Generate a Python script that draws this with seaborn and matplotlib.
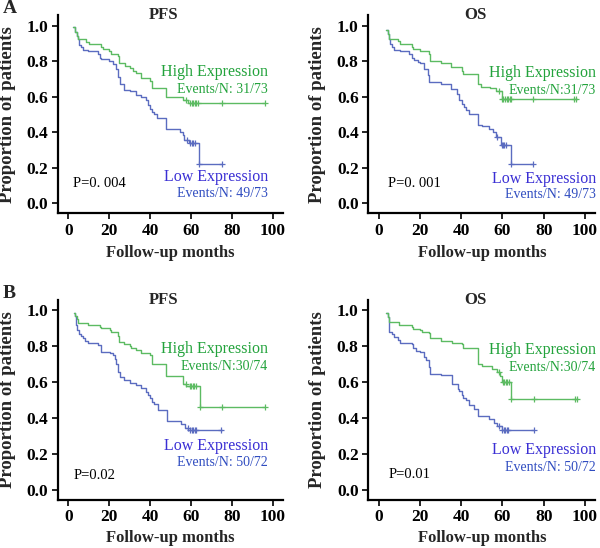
import numpy as np
import pandas as pd
import seaborn as sns
import matplotlib
matplotlib.use("Agg")
import matplotlib.pyplot as plt

# ---- data (step points: time in months, survival) ----
# A / PFS
a_pfs_high_t = [2.4, 3.3, 4.0, 4.8, 8.4, 10, 15.7, 16.7, 19.9, 21, 24, 24.8, 27.5, 30, 31.6, 33, 35.3, 40.1, 40.9, 47.8, 55.8, 58.3, 96]
a_pfs_high_s = [0.99, 0.963, 0.944, 0.925, 0.908, 0.897, 0.878, 0.866, 0.856, 0.84, 0.83, 0.79, 0.775, 0.76, 0.747, 0.734, 0.706, 0.69, 0.648, 0.597, 0.583, 0.567, 0.567]
a_pfs_high_c = [57.5, 59.5, 60.3, 61.0, 61.8, 62.6, 63.5, 75, 96]
a_pfs_low_t = [2.4, 3.3, 4.0, 4.8, 5.2, 6, 7, 9.8, 14.6, 15.3, 16, 20, 21.7, 23.5, 24.3, 25.1, 27.2, 30, 33, 35.3, 37.8, 38.9, 40.1, 41, 42, 43.4, 47.8, 54.6, 55.8, 56.6, 59, 64, 75]
a_pfs_low_s = [0.99, 0.963, 0.944, 0.925, 0.893, 0.878, 0.865, 0.856, 0.84, 0.82, 0.81, 0.80, 0.785, 0.757, 0.71, 0.67, 0.64, 0.63, 0.61, 0.596, 0.584, 0.556, 0.531, 0.512, 0.503, 0.479, 0.42, 0.40, 0.382, 0.355, 0.338, 0.223, 0.223]
a_pfs_low_c = [57.8, 59.5, 60.3, 61.0, 61.8, 64, 75]

# A / OS
a_os_high_t = [3.5, 4.4, 5.2, 9.2, 10.3, 16, 16.8, 20.2, 24.3, 25.1, 30.3, 35, 40.3, 41.1, 48, 49.6, 54, 56.8, 59.6, 96]
a_os_high_s = [0.976, 0.955, 0.925, 0.913, 0.897, 0.878, 0.866, 0.856, 0.84, 0.80, 0.789, 0.77, 0.747, 0.73, 0.672, 0.655, 0.648, 0.635, 0.588, 0.588]
a_os_high_c = [58.5, 59.8, 60.5, 61.2, 62, 62.8, 63.5, 64.3, 75, 94.8, 95.9]
a_os_low_t = [3.5, 4.4, 5.0, 5.5, 6.5, 7.6, 10.3, 14.8, 16, 17.3, 19, 20.2, 22.2, 23.8, 24.6, 30.3, 35, 38, 38.8, 40.4, 41.3, 42.4, 44, 48, 50, 53.6, 55.2, 56.8, 59.3, 64.1, 75]
a_os_low_s = [0.976, 0.955, 0.925, 0.897, 0.88, 0.865, 0.856, 0.84, 0.82, 0.806, 0.795, 0.79, 0.757, 0.72, 0.684, 0.674, 0.646, 0.618, 0.581, 0.562, 0.54, 0.524, 0.505, 0.44, 0.435, 0.42, 0.40, 0.373, 0.33, 0.223, 0.223]
a_os_low_c = [57.6, 59.6, 60.3, 61.0, 61.8, 64.1, 75]

# B / PFS
b_pfs_high_t = [2.6, 3.3, 4.0, 4.8, 9.7, 15.3, 16.1, 20.2, 21, 24.2, 24.7, 27.2, 30, 30.8, 32.9, 35.3, 40.1, 41, 47.8, 55.8, 57.6, 64.3, 96.3]
b_pfs_high_s = [0.987, 0.968, 0.95, 0.928, 0.918, 0.907, 0.9, 0.889, 0.876, 0.858, 0.824, 0.81, 0.798, 0.789, 0.776, 0.76, 0.748, 0.70, 0.634, 0.592, 0.578, 0.462, 0.462]
b_pfs_high_c = [57.4, 59.2, 60.0, 60.8, 61.6, 62.5, 64.3, 75.3, 96.3]
b_pfs_low_t = [2.6, 3.3, 3.5, 4.3, 5.2, 6, 7.1, 8, 9.5, 14.6, 15.7, 20.2, 21.8, 22.6, 23.4, 24.3, 25.1, 27.2, 30, 33, 35.3, 37.8, 38.9, 40.1, 41, 42, 43.6, 48, 55, 57.2, 58.5, 75]
b_pfs_low_s = [0.987, 0.968, 0.92, 0.89, 0.866, 0.855, 0.843, 0.83, 0.815, 0.806, 0.77, 0.76, 0.75, 0.73, 0.703, 0.657, 0.63, 0.612, 0.593, 0.584, 0.566, 0.547, 0.529, 0.51, 0.49, 0.476, 0.445, 0.385, 0.365, 0.347, 0.332, 0.332]
b_pfs_low_c = [58.3, 59.5, 60.2, 61.0, 61.7, 62.4, 74.8]

# B / OS
b_os_high_t = [3.5, 4.4, 4.8, 9.7, 16, 16.8, 20.2, 21.2, 24.3, 25.1, 30.3, 35.5, 40.4, 41, 48, 50, 55, 57.2, 58.8, 59.7, 64.3, 96.4]
b_os_high_s = [0.987, 0.96, 0.932, 0.92, 0.905, 0.896, 0.89, 0.88, 0.874, 0.843, 0.83, 0.82, 0.81, 0.79, 0.70, 0.69, 0.672, 0.654, 0.632, 0.598, 0.505, 0.505]
b_os_high_c = [58.4, 60.2, 60.9, 61.6, 62.4, 63.2, 64.3, 75.4, 95.1, 96.4]
b_os_low_t = [3.5, 4.4, 4.8, 5.2, 6.5, 7.6, 9.2, 10.3, 16, 16.8, 18, 20.2, 22.2, 23, 24.3, 25, 30.3, 35.5, 38.3, 39.1, 40.4, 41, 42.3, 43.9, 46, 48, 53.6, 55.7, 57.3, 59.7, 75.4]
b_os_low_s = [0.987, 0.96, 0.922, 0.876, 0.865, 0.85, 0.835, 0.82, 0.81, 0.79, 0.775, 0.766, 0.742, 0.724, 0.683, 0.646, 0.638, 0.59, 0.563, 0.55, 0.526, 0.513, 0.5, 0.47, 0.45, 0.412, 0.393, 0.374, 0.356, 0.332, 0.332]
b_os_low_c = [58.4, 59.9, 60.6, 61.3, 62.0, 62.8, 75.4]

titles = ["PFS", "OS", "PFS", "OS"]
p_values = ["P=0. 004", "P=0. 001", "P=0.02", "P=0.01"]
high_events = ["Events/N: 31/73", "Events/N:31/73", "Events/N:30/74", "Events/N:30/74"]
low_events = ["Events/N: 49/73", "Events/N: 49/73", "Events/N: 50/72", "Events/N: 50/72"]

panels = [
    (a_pfs_high_t, a_pfs_high_s, a_pfs_high_c, a_pfs_low_t, a_pfs_low_s, a_pfs_low_c),
    (a_os_high_t, a_os_high_s, a_os_high_c, a_os_low_t, a_os_low_s, a_os_low_c),
    (b_pfs_high_t, b_pfs_high_s, b_pfs_high_c, b_pfs_low_t, b_pfs_low_s, b_pfs_low_c),
    (b_os_high_t, b_os_high_s, b_os_high_c, b_os_low_t, b_os_low_s, b_os_low_c),
]

sns.set_style("ticks")
plt.rcParams['font.family'] = ['Liberation Serif', 'DejaVu Serif']

GREEN_LINE = "#5cbb62"
BLUE_LINE = "#5b6cc0"
GREEN_TXT = "#23a33c"
LOW_TXT = "#3a2fd4"
BLUE_TXT = "#2f4cc0"


def surv_at(t, s, c):
    # value of the step curve at each censor time
    idx = np.searchsorted(np.array(t), np.array(c), side="right") - 1
    idx = np.clip(idx, 0, len(s) - 1)
    return np.array(s)[idx]


fig = plt.figure(figsize=(6.0, 5.48), dpi=100)
rects = [
    [0.097, 0.611, 0.375, 0.361],
    [0.614, 0.611, 0.378, 0.361],
    [0.097, 0.088, 0.375, 0.365],
    [0.614, 0.088, 0.378, 0.365],
]
text_y = [
    (0.742, 0.64, 0.15, 0.056, 0.112),
    (0.733, 0.636, 0.14, 0.052, 0.112),
    (0.783, 0.686, 0.245, 0.152, 0.078),
    (0.779, 0.681, 0.22, 0.124, 0.087),
]
text_x = [(97.5, 2.4), (105.5, 4.7), (97.5, 2.4), (105.5, 4.7)]
xlabel_y = [-0.162, -0.162, -0.153, -0.153]

for i, (ht, hs, hc, lt, ls, lc) in enumerate(panels):
    ax = fig.add_axes(rects[i])
    high = pd.DataFrame({"month": ht, "surv": hs})
    low = pd.DataFrame({"month": lt, "surv": ls})
    sns.lineplot(data=low, x="month", y="surv", drawstyle="steps-post", color=BLUE_LINE,
                 linewidth=1.0, estimator=None, ax=ax)
    sns.lineplot(data=high, x="month", y="surv", drawstyle="steps-post", color=GREEN_LINE,
                 linewidth=1.0, estimator=None, ax=ax)
    sns.scatterplot(x=lc, y=surv_at(lt, ls, lc), marker="+", s=22, linewidth=0.9,
                    color=BLUE_LINE, ax=ax)
    sns.scatterplot(x=hc, y=surv_at(ht, hs, hc), marker="+", s=22, linewidth=0.9,
                    color=GREEN_LINE, ax=ax)

    ax.set_xlim(-5, 105)
    ax.set_ylim(-0.055, 1.058)
    ax.set_xticks([0, 20, 40, 60, 80, 100])
    ax.set_yticks([0.0, 0.2, 0.4, 0.6, 0.8, 1.0])
    ax.set_yticklabels(["0.0", "0.2", "0.4", "0.6", "0.8", "1.0"])
    sns.despine(ax=ax)
    for sp in ["left", "bottom"]:
        ax.spines[sp].set_linewidth(1.6)
        ax.spines[sp].set_color("black")
    ax.tick_params(direction="out", length=4, width=1.2, labelsize=12.5, colors="black", pad=3)
    for lab in ax.get_xticklabels() + ax.get_yticklabels():
        lab.set_fontweight("bold")
    ax.set_xlabel("Follow-up months", fontsize=12, fontweight="bold")
    ax.set_ylabel("Proportion of patients", fontsize=13.5, fontweight="bold")
    ax.xaxis.set_label_coords(0.5, xlabel_y[i])
    ax.yaxis.set_label_coords(-0.188, 0.5)

    ax.text(0.47, 1.0, titles[i], transform=ax.transAxes, ha="center", va="center",
            fontsize=12, fontweight="bold")
    hy, hey, ly, ley, py = text_y[i]
    xr, xp = text_x[i]
    ax.text(xr, hy, "High Expression", ha="right", va="center", fontsize=11.5, color=GREEN_TXT)
    ax.text(xr, hey, high_events[i], ha="right", va="center", fontsize=10, color=GREEN_TXT)
    ax.text(xr, ly, "Low Expression", ha="right", va="center", fontsize=11.5, color=LOW_TXT)
    ax.text(xr, ley, low_events[i], ha="right", va="center", fontsize=10, color=BLUE_TXT)
    ax.text(xp, py, p_values[i], ha="left", va="center", fontsize=10.5, color="black")

fig.text(0.004, 0.985, "A", fontsize=14, fontweight="bold", va="center", ha="left")
fig.text(0.004, 0.465, "B", fontsize=14, fontweight="bold", va="center", ha="left")

fig.savefig("out.png", dpi=100)
